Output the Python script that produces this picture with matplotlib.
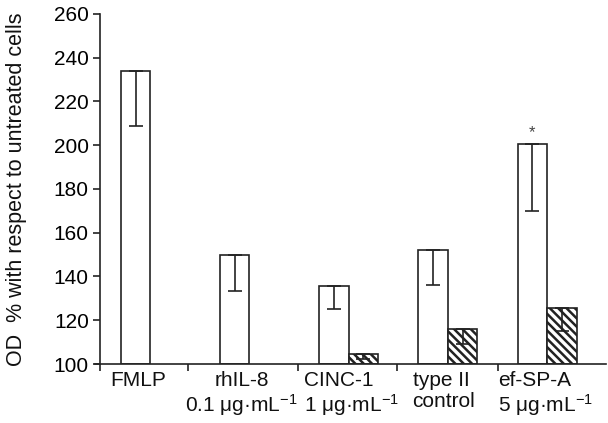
import matplotlib
matplotlib.use('Agg')
import matplotlib.pyplot as plt
import numpy as np

plt.rcParams['font.family'] = ['Liberation Sans', 'DejaVu Sans']
plt.rcParams['hatch.linewidth'] = 1.8
plt.rcParams['mathtext.fontset'] = 'custom'
plt.rcParams['mathtext.rm'] = 'Liberation Sans'

# data
groups = ['FMLP', 'rhIL-8\n0.1 μg·mL$\\mathregular{^{-1}}$',
          'CINC-1\n1 μg·mL$\\mathregular{^{-1}}$',
          'type II\ncontrol', 'ef-SP-A\n5 μg·mL$\\mathregular{^{-1}}$']
open_vals = [234, 150, 135.7, 152.3, 200.7]
open_low = [209, 133.4, 125, 135.9, 170]
hatch_vals = [np.nan, np.nan, 104.4, 116, 125.4]
hatch_low = [np.nan, np.nan, 102.3, 109, 115]
star_group = 4
yticks = np.arange(100, 261, 20)
sep_ticks = [0.0, 0.89, 2.0, 2.99, 4.01]

fig = plt.figure(figsize=(6.08, 4.23), dpi=100)
ax = fig.add_axes([95 / 608, 59 / 423, 511 / 608, 350 / 423])

w = 0.297
x = np.arange(len(groups)) + 0.21 + w / 2
x2 = x + w

ax.bar(x, np.array(open_vals) - 100, w, bottom=100, facecolor='white',
       edgecolor='#222222', linewidth=1.2, zorder=2)
err = np.array(open_vals) - np.array(open_low)
ax.errorbar(x, open_vals, yerr=[err, np.zeros_like(err)], fmt='none',
            ecolor='#222222', elinewidth=1.2, capsize=5, capthick=1.2, zorder=3)

hv = np.array(hatch_vals)
m = ~np.isnan(hv)
ax.bar(x2[m], hv[m] - 100, w, bottom=100, facecolor='white', edgecolor='#222222',
       hatch='\\\\\\\\', linewidth=1.2, zorder=2)
herr = hv[m] - np.array(hatch_low)[m]
ax.errorbar(x2[m], hv[m], yerr=[herr, np.zeros_like(herr)], fmt='none',
            ecolor='#222222', elinewidth=1.2, capsize=5, capthick=1.2, zorder=3)

ax.text(x[star_group], open_vals[star_group] + 1.5, '*', ha='center',
        va='bottom', fontsize=12, color='#444444')

ax.set_xlim(-0.05, 5.1)
ax.set_ylim(100, 260)
ax.spines['top'].set_visible(False)
ax.spines['right'].set_visible(False)
ax.spines['left'].set_position(('data', 0))
ax.spines['left'].set_bounds(100, 260)
for s in ['left', 'bottom']:
    ax.spines[s].set_linewidth(1.2)
    ax.spines[s].set_color('#222222')

ax.set_yticks(yticks)
ax.tick_params(axis='y', labelsize=15, length=5, width=1.2, pad=3, color='#222222')
ax.set_xticks(sep_ticks)
ax.set_xticklabels([''] * len(sep_ticks))
ax.tick_params(axis='x', length=5, width=1.2, color='#222222')

# category labels: left-aligned below each group, rhIL-8 centred
lab_left = [0.10, 0.86, 2.06, 3.15, 4.01]
lab_align = ['left', 'center', 'left', 'left', 'left']
for xi, g, al in zip(lab_left, groups, lab_align):
    ax.text(xi, 97, g, ha='left', va='top', fontsize=15, multialignment=al,
            linespacing=1.15, color='#111111')

fig.text(17 / 608, 0.5 + (423 / 2 - 189) / 423, 'OD  % with respect to untreated cells',
         rotation=90, ha='center', va='center', fontsize=15.5, color='#111111')

fig.savefig('out.png', dpi=100)
